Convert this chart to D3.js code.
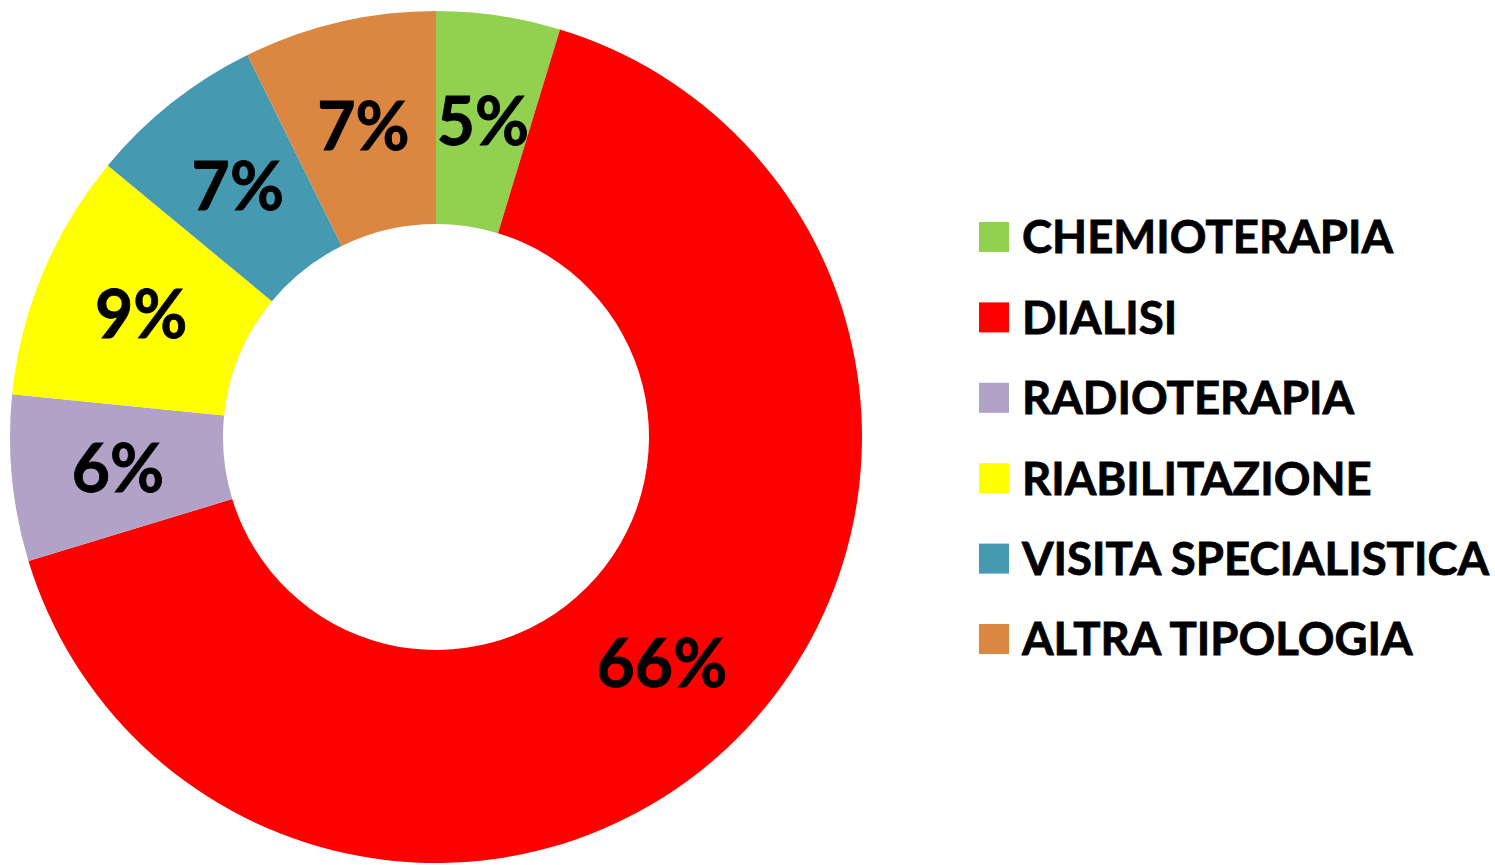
<!DOCTYPE html>
<html>
<head>
    <meta charset="utf-8">
    <title>Tipologia</title>
    <script src="https://d3js.org/d3.v7.min.js"></script>
    <style>
        body {
            margin: 0;
            background-color: #FFFFFF;
        }
        text {
            font-family: Lato, "Open Sans", sans-serif;
            font-weight: bold;
            fill: #000;
            stroke: #000;
            stroke-width: 0.8px;
        }
    </style>
</head>
<body>
    <div id="chart"></div>

    <script>
        // Data
        var categories = ["CHEMIOTERAPIA", "DIALISI", "RADIOTERAPIA", "RIABILITAZIONE", "VISITA SPECIALISTICA", "ALTRA TIPOLOGIA"];
        var values = [4.7, 65.6, 6.3, 9.4, 6.7, 7.3];
        var labels = ["5%", "66%", "6%", "9%", "7%", "7%"];
        var colors = ["#92D050", "#FF0000", "#B2A2C7", "#FFFF00", "#4599B0", "#DB8641"];

        var width = 1495, height = 865;
        var cx = 436, cy = 437;
        var outerR = 426, innerR = 213;

        var svg = d3.select("#chart")
            .append("svg")
            .attr("width", width)
            .attr("height", height);

        var data = categories.map(function(c, i) {
            return { name: c, value: values[i], label: labels[i], color: colors[i] };
        });

        var pie = d3.pie()
            .sort(null)
            .value(function(d) { return d.value; });

        var arc = d3.arc()
            .innerRadius(innerR)
            .outerRadius(outerR);

        var g = svg.append("g")
            .attr("transform", "translate(" + cx + "," + cy + ")");

        // Slices
        g.selectAll("path")
            .data(pie(data))
            .enter()
            .append("path")
            .attr("d", arc)
            .attr("fill", function(d) { return d.data.color; });

        // Percent labels
        g.selectAll("text.pct")
            .data(pie(data))
            .enter()
            .append("text")
            .attr("class", "pct")
            .attr("transform", function(d) { return "translate(" + arc.centroid(d) + ")"; })
            .attr("text-anchor", "middle")
            .attr("dy", "0.36em")
            .style("font-size", "66px")
            .text(function(d) { return d.data.label; });

        // Legend
        var legendY = d3.scalePoint()
            .domain(categories)
            .range([237, 639]);

        var legend = svg.append("g")
            .selectAll("g")
            .data(data)
            .enter()
            .append("g")
            .attr("transform", function(d) { return "translate(979," + legendY(d.name) + ")"; });

        legend.append("rect")
            .attr("x", 0)
            .attr("y", -15)
            .attr("width", 30)
            .attr("height", 30)
            .attr("fill", function(d) { return d.color; });

        legend.append("text")
            .attr("x", 43)
            .attr("dy", "0.36em")
            .style("font-size", "45.5px")
            .text(function(d) { return d.name; });
    </script>
</body>
</html>
